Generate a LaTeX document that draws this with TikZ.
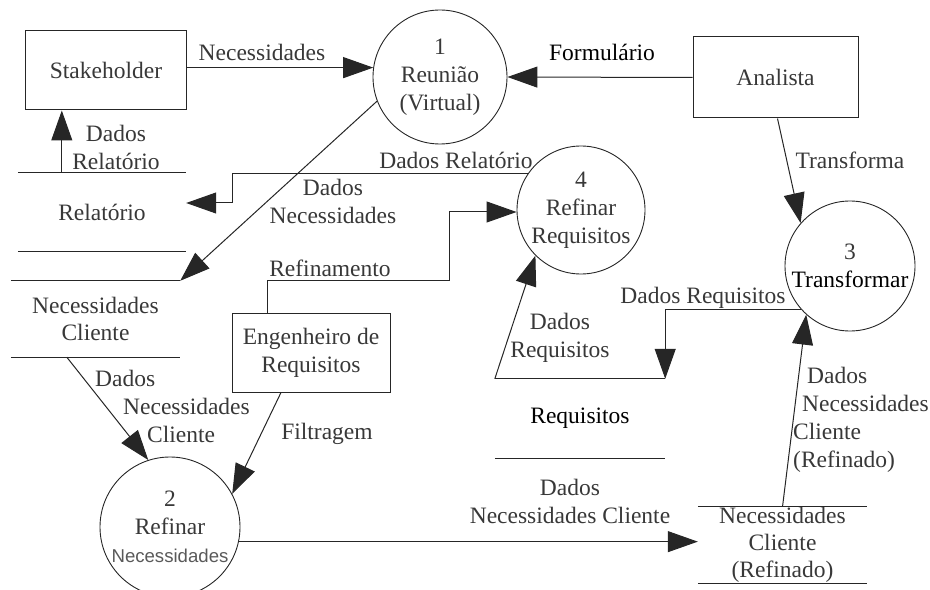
\documentclass[tikz,border=0pt]{standalone}
\usepackage{fontspec}
\setmainfont{Liberation Serif}
\newfontfamily\dfdserif{Liberation Serif}
\newfontfamily\dfdsans{Liberation Sans}
\usetikzlibrary{arrows.meta}

\begin{document}
\begin{tikzpicture}[x=1bp,
y=-1bp,
every node/.style={
align=center,
text=black!78,
font=\dfdserif\fontsize{23.5bp}{28bp}\selectfont,
},
box/.style={
draw=black!85,
line width=1bp,
rectangle,
},
proc/.style={
draw=black!85,
line width=0.9bp,
circle,
inner sep=0pt,
},
store/.style={
inner sep=0pt,
minimum width=169bp,
minimum height=76bp,
font=\dfdserif\fontsize{23.5bp}{27bp}\selectfont,
},
flow/.style={
draw=black!85,
line width=1bp,
-{Triangle[length=30bp,width=21bp]},
}]
\useasboundingbox (0,0) rectangle (930,590);

%external entities
\node[box,minimum width=160bp,minimum height=79bp] (stake) at (106,70.5) {Stakeholder};
\node[box,minimum width=165bp,minimum height=81bp] (analista) at (775.5,77.5) {Analista};
\node[box,minimum width=158bp,minimum height=79bp] (eng) at (311,352.5) {Engenheiro de\\Requisitos};

%processes
\node[proc,minimum size=134bp] (p1) at (440,77) {1\\Reunião\\(Virtual)};
\node[proc,minimum size=140bp] (p2) at (170,527) {2\\Refinar\\{\dfdsans\fontsize{18.6bp}{25bp}\selectfont\color{black!65}Necessidades}};
\node[proc,minimum size=130bp] (p3) at (850,266) {3\\\textcolor{black}{Transformar}};
\node[proc,minimum size=128bp] (p4) at (581,210) {4\\Refinar\\Requisitos};

%data stores
\node[store,minimum width=168bp,minimum height=78bp] (rel) at (102,212) {Relatório};
\node[store] (nc) at (95.5,319) {Necessidades\\Cliente};
\node[store,minimum width=170bp,minimum height=79bp,text=black] (req) at (580,418.5) {Requisitos};
\node[store] (ref) at (782.5,545) {Necessidades\\Cliente\\(Refinado)};
\foreach \s in {rel,nc,req,ref}
  \draw[black!85,line width=1bp] (\s.north west) -- (\s.north east) (\s.south west) -- (\s.south east);

%flows
\draw[flow] (stake.east |- p1.172) -- (p1.172);
\draw[flow] (analista.west) -- (p1.east);
\draw[flow] ([xshift=2bp]analista.south) -- (p3.139);
\draw[flow] ([xshift=44bp]rel.north west) -- ([xshift=44bp]rel.north west |- stake.south);
\draw[flow] (p1.201) -- (nc.north east);
\draw[flow] (p4.146) -| ([xshift=46bp,yshift=9bp]rel.east) -- ([yshift=9bp]rel.east);
\draw[flow] ([xshift=-44bp]eng.north) -- ++(0,-32) -| ([xshift=-67bp,yshift=-2bp]p4.west) -- ([yshift=-2bp]p4.west);
\draw[flow] ([xshift=-30bp]eng.south) -- (p2.28);
\draw[flow] ([xshift=56bp]nc.south west) -- (p2.108);
\draw[flow] (p2.-12) -- (p2.-12 -| ref.west);
\draw[flow] (ref.north) -- (p3.228);
\draw[flow] (p3.222) -| (req.north east);
\draw[flow] (req.north west) -- (p4.225);

%flow labels
\node (lNec) at (262,52) {Necessidades};
\node[text=black] (lForm) at (602,52) {Formulário};
\node (lTransf) at (850,160) {Transforma};
\node (lDadosRel1) at (116,147) {Dados\\Relatório};
\node (lDadosRel2) at (456,160) {Dados Relatório};
\node (lDadosNec) at (333,201) {Dados\\Necessidades};
\node (lRefin) at (330,268) {Refinamento};
\node (lFiltr) at (327,434) {Filtragem};
\node[anchor=west,align=left,inner sep=0pt] (lDadosNC) at (95,406) {Dados\\\hspace*{28bp}Necessidades\\\hspace*{52bp}Cliente};
\node (lDadosReq1) at (703,298) {Dados Requisitos};
\node (lDadosReq2) at (560,338) {Dados\\Requisitos};
\node (lDadosNC2) at (570,501) {Dados\\Necessidades Cliente};
\node[anchor=west,align=left,inner sep=0pt] (lDadosRef) at (793,420) {\hspace*{14bp}Dados\\\hspace*{9bp}Necessidades\\Cliente\\(Refinado)};
\end{tikzpicture}
\end{document}
